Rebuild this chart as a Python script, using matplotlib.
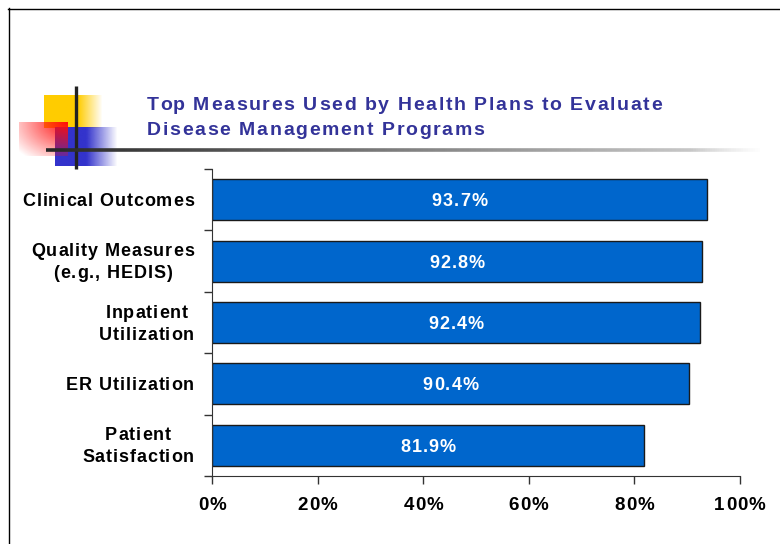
import matplotlib.pyplot as plt
import numpy as np
from matplotlib.font_manager import FontProperties

# Chart data
categories = ['Clinical Outcomes', 'Quality Measures\n(e.g., HEDIS)', 'Inpatient\nUtilization',
              'ER Utilization', 'Patient\nSatisfaction']
values = [93.7, 92.8, 92.4, 90.4, 81.9]
x_ticks = [0, 20, 40, 60, 80, 100]
title_lines = ['Top Measures Used by Health Plans to Evaluate', 'Disease Management Programs']

W, H = 780, 544
FONT = 'Liberation Sans'
plt.rcParams['font.family'] = [FONT, 'DejaVu Sans']
fig = plt.figure(figsize=(W / 100, H / 100), dpi=100)
renderer = fig.canvas.get_renderer()

# Decoration layer in pixel coordinates (y down)
deco = fig.add_axes([0, 0, 1, 1], zorder=0)
deco.set_xlim(0, W)
deco.set_ylim(H, 0)
deco.axis('off')

# Text layer on top, same pixel coordinates
top = fig.add_axes([0, 0, 1, 1], zorder=5)
top.set_xlim(0, W)
top.set_ylim(H, 0)
top.axis('off')
top.patch.set_alpha(0)


def text_width(s, size):
    prop = FontProperties(family=FONT, weight='bold', size=size)
    if not s:
        return 0.0
    w, h, d = renderer.get_text_width_height_descent(s + 'x', prop, ismath=False)
    wx, _, _ = renderer.get_text_width_height_descent('x', prop, ismath=False)
    return w - wx


def spaced_width(s, size, spacing):
    return text_width(s, size) + spacing * (len(s) - 1)


def spaced_text(x, baseline, s, size, color, spacing, ha='left'):
    total = spaced_width(s, size, spacing)
    if ha == 'center':
        x = x - total / 2
    elif ha == 'right':
        x = x - total
    for i, ch in enumerate(s):
        cx = x + text_width(s[:i], size) + spacing * i
        top.text(cx, baseline, ch, fontsize=size, fontweight='bold', color=color,
                 ha='left', va='baseline', family=FONT)


def grad_img(color, alpha):
    rgba = np.zeros(alpha.shape + (4,))
    rgba[..., :3] = color
    rgba[..., 3] = np.clip(alpha, 0, 1)
    return rgba


# yellow square: solid then fades right
xs = np.linspace(0, 1, 60)
a = np.where(xs < 0.58, 1.0, 1 - (xs - 0.58) / 0.42)
deco.imshow(grad_img((1.0, 0.8, 0.0), np.tile(a, (30, 1))),
            extent=(44, 103, 128, 95), aspect='auto', interpolation='bilinear')
# blue square: solid then fades right
a = np.where(xs < 0.5, 1.0, 1 - (xs - 0.5) / 0.5)
deco.imshow(grad_img((0.2, 0.2, 0.8), np.tile(a, (30, 1))),
            extent=(55, 118, 166, 127), aspect='auto', interpolation='bilinear')
# red square: strong at top-right, fading to bottom-left
gx, gy = np.meshgrid(np.linspace(0, 1, 50), np.linspace(0, 1, 40))
d = np.sqrt((1 - gx) ** 2 + gy ** 2) / np.sqrt(2)
deco.imshow(grad_img((1.0, 0.05, 0.05), 1 - d * 1.05),
            extent=(19, 68, 156, 122), aspect='auto', interpolation='bilinear')
# black cross lines
deco.plot([75.5, 75.5], [86, 169], color='#222222', lw=2.4, solid_capstyle='butt')
n = 300
lx = np.linspace(46, 760, n)
for i in range(n - 1):
    t = i / (n - 1)
    g = 0.15 + 0.7 * t
    alpha = 1.0 if t < 0.9 else 1 - (t - 0.9) / 0.1
    deco.plot(lx[i:i + 2], [150, 150], color=(g, g, g), alpha=alpha, lw=2.6,
              solid_capstyle='butt')
# frame lines
deco.plot([8.5, 8.5], [8, H], color='black', lw=1)
deco.plot([8, W], [8.5, 8.5], color='black', lw=1)

# Title
for k, line in enumerate(title_lines):
    spaced_text(147, 110 + 25 * k, line, 14, '#333399', 1.65)

# Main chart
ax = fig.add_axes([212 / W, 1 - 476 / H, (740 - 212) / W, (476 - 169) / H], zorder=1)
ax.patch.set_alpha(0)
ypos = np.arange(len(categories))
ax.barh(ypos, values, height=0.67, color='#0066CC', edgecolor='#1a1a1a', lw=1)

ax.set_xlim(0, 100)
ax.set_ylim(len(categories) - 0.5, -0.5)
ax.set_xticks(x_ticks)
ax.set_xticklabels([])
ax.set_yticks(ypos)
ax.set_yticklabels([])
ax.set_yticks(np.arange(-0.5, len(categories)), minor=True)
ax.tick_params(axis='y', which='major', length=0)
ax.tick_params(axis='y', which='minor', length=6, width=1, color='#333333')
ax.tick_params(axis='x', length=6, width=1, color='#333333')
for s in ['top', 'right']:
    ax.spines[s].set_visible(False)
ax.spines['left'].set_color('#333333')
ax.spines['bottom'].set_color('#333333')


def to_px(x, y):
    dx, dy = ax.transData.transform((x, y))
    return dx, H - dy


# value labels inside bars
for y, v in zip(ypos, values):
    px, py = to_px(v / 2, y)
    spaced_text(px, py + 6.5, f'{v:.1f}%', 13, 'white', 1.1, ha='center')

# category labels, right aligned block with centered lines
label_size, label_sp, line_gap = 13, 0.9, 22
for y, lab in zip(ypos, categories):
    lines = lab.split('\n')
    widths = [spaced_width(l, label_size, label_sp) for l in lines]
    px, py = to_px(0, y)
    cx = px - 18 - max(widths) / 2
    first = py + 6 - line_gap * (len(lines) - 1) / 2
    for k, l in enumerate(lines):
        spaced_text(cx, first + line_gap * k, l, label_size, 'black', label_sp, ha='center')

# x tick labels
for t in x_ticks:
    px, py = to_px(t, len(categories) - 0.5)
    spaced_text(px, py + 34, f'{t}%', 13.5, 'black', 1.2, ha='center')

fig.savefig('out.png', dpi=100)
